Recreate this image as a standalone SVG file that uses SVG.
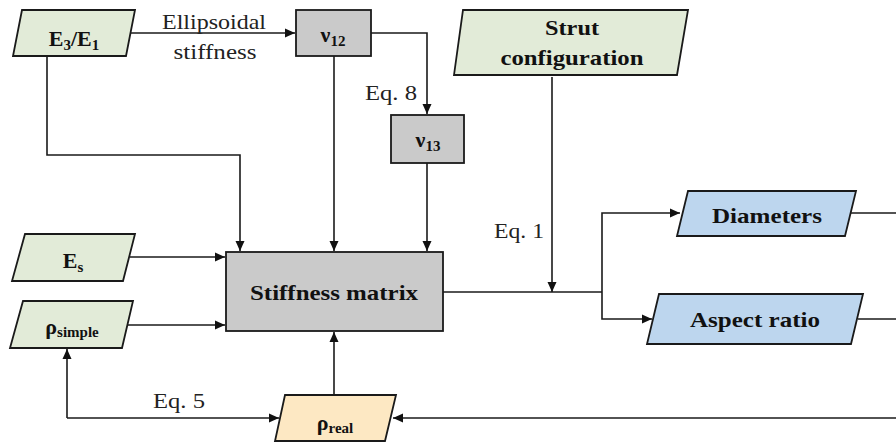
<svg xmlns="http://www.w3.org/2000/svg" width="896" height="443" viewBox="0 0 896 443">
<style>
.in{fill:#e2ebd8;stroke:#1a1a1a;stroke-width:1.8}
.gr{fill:#cacaca;stroke:#1a1a1a;stroke-width:1.8}
.bl{fill:#bdd6ee;stroke:#1a1a1a;stroke-width:1.8}
.ye{fill:#fde8c3;stroke:#1a1a1a;stroke-width:1.8}
text{font-family:'Liberation Serif','DejaVu Serif',serif}
.b{font-weight:bold;font-size:22px;fill:#111;text-anchor:middle}
.r{font-size:21px;fill:#222;text-anchor:middle}
.sub{font-size:15px}
.c{fill:none;stroke:#1a1a1a;stroke-width:1.6}
</style>
<defs>
<marker id="a" viewBox="0 0 10 10" refX="10" refY="5" markerWidth="10" markerHeight="10" markerUnits="userSpaceOnUse" orient="auto">
<path d="M0,0.5 L10,5 L0,9.5 z" fill="#111"/>
</marker>
</defs>
<g id="connectors">
<path class="c" d="M131,33 H295" marker-end="url(#a)"/>
<path class="c" d="M371,33 H427 V114" marker-end="url(#a)"/>
<path class="c" d="M47,56 V155 H240 V251" marker-end="url(#a)"/>
<path class="c" d="M334,56 V251" marker-end="url(#a)"/>
<path class="c" d="M427,163 V251" marker-end="url(#a)"/>
<path class="c" d="M130,257 H225" marker-end="url(#a)"/>
<path class="c" d="M128,325 H225" marker-end="url(#a)"/>
<path class="c" d="M334,395 V332" marker-end="url(#a)"/>
<path class="c" d="M67,418 V349" marker-end="url(#a)"/>
<path class="c" d="M67,418 H279" marker-end="url(#a)"/>
<path class="c" d="M896,418 H393" marker-end="url(#a)"/>
<path class="c" d="M552,77 V292" marker-end="url(#a)"/>
<path class="c" d="M443,292 H602"/>
<path class="c" d="M602,292 V213 H680" marker-end="url(#a)"/>
<path class="c" d="M602,292 V319 H652" marker-end="url(#a)"/>
<path class="c" d="M851,213 H896"/>
<path class="c" d="M858,319 H896"/>
<text class="r" x="214" y="29" textLength="104" lengthAdjust="spacingAndGlyphs">Ellipsoidal</text>
<text class="r" x="215" y="59" textLength="83" lengthAdjust="spacingAndGlyphs">stiffness</text>
<text class="r" x="391" y="100" textLength="52" lengthAdjust="spacingAndGlyphs">Eq. 8</text>
<text class="r" x="519" y="238" textLength="50" lengthAdjust="spacingAndGlyphs">Eq. 1</text>
<text class="r" x="179" y="408" textLength="52" lengthAdjust="spacingAndGlyphs">Eq. 5</text>
</g>
<g id="E3E1">
<polygon class="in" points="22,10 135,10 126,56 13,56"/>
<text class="b" x="74" y="46">E<tspan class="sub" dy="4">3</tspan><tspan dy="-4">/E</tspan><tspan class="sub" dy="4">1</tspan></text>
</g>
<g id="nu12">
<rect class="gr" x="296" y="10" width="75" height="46"/>
<text class="b" x="333" y="42">ν<tspan class="sub" dy="4">12</tspan></text>
</g>
<g id="nu13">
<rect class="gr" x="391" y="115" width="73" height="48"/>
<text class="b" x="428" y="147">ν<tspan class="sub" dy="4">13</tspan></text>
</g>
<g id="strut">
<polygon class="in" points="463,10 688,10 677,75 454,75"/>
<text class="b" x="572" y="35" textLength="54" lengthAdjust="spacingAndGlyphs">Strut</text>
<text class="b" x="572" y="65" textLength="143" lengthAdjust="spacingAndGlyphs">configuration</text>
</g>
<g id="Es">
<polygon class="in" points="25,234 135,234 123,281 12,281"/>
<text class="b" x="73" y="268">E<tspan class="sub" dy="4">s</tspan></text>
</g>
<g id="rhosimple">
<polygon class="in" points="23,301 133,301 122,348 10,348"/>
<text class="b" x="72" y="334">ρ<tspan class="sub" dy="3">simple</tspan></text>
</g>
<g id="stiffness">
<rect class="gr" x="226" y="252" width="217" height="79"/>
<text class="b" x="334" y="300" textLength="168" lengthAdjust="spacingAndGlyphs">Stiffness matrix</text>
</g>
<g id="rhoreal">
<polygon class="ye" points="285,395 396,395 385,441 275,441"/>
<text class="b" x="335" y="430">ρ<tspan class="sub" dy="3">real</tspan></text>
</g>
<g id="diameters">
<polygon class="bl" points="688,191 856,191 845,236 677,236"/>
<text class="b" x="767" y="223" textLength="110" lengthAdjust="spacingAndGlyphs">Diameters</text>
</g>
<g id="aspect">
<polygon class="bl" points="659,294 863,294 851,344 647,344"/>
<text class="b" x="755" y="327" textLength="130" lengthAdjust="spacingAndGlyphs">Aspect ratio</text>
</g>
</svg>
